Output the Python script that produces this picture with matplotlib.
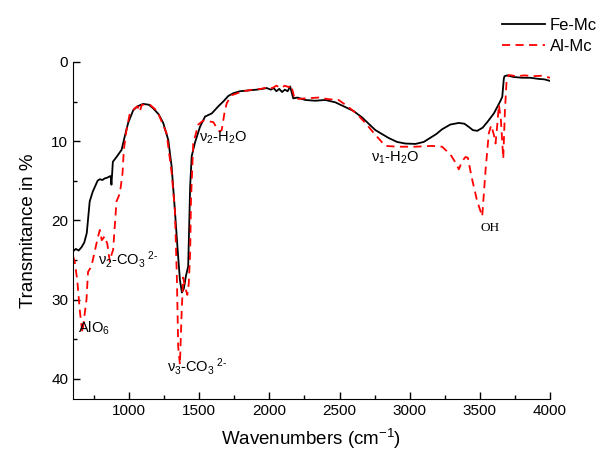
import matplotlib
matplotlib.use("Agg")
import matplotlib.pyplot as plt
from matplotlib.ticker import MultipleLocator

plt.rcParams["font.family"] = ["Liberation Sans", "DejaVu Sans"]
plt.rcParams["mathtext.fontset"] = "custom"
plt.rcParams["mathtext.rm"] = "Liberation Sans"
plt.rcParams["mathtext.it"] = "Liberation Sans"

# Fe-Mc spectrum (wavenumber, transmitance)
fe_x = [600, 620, 640, 660, 680, 698, 719, 740, 755, 775, 791, 810, 826, 845,
        855, 868, 874, 884, 910, 946, 969, 993, 1029, 1060, 1100, 1140, 1171,
        1210, 1243, 1279, 1303, 1326, 1345, 1362, 1376, 1390, 1405, 1421, 1435,
        1446, 1469, 1505, 1541, 1589, 1636, 1671, 1707, 1743, 1791, 1850, 1910,
        1950, 1981, 2010, 2030, 2050, 2070, 2090, 2110, 2130, 2148, 2155, 2170,
        2200, 2255, 2326, 2398, 2470, 2541, 2600, 2660, 2755, 2850, 2910, 2969,
        3041, 3100, 3136, 3190, 3231, 3290, 3350, 3390, 3421, 3450, 3481, 3520,
        3553, 3600, 3636, 3650, 3660, 3671, 3676, 3696, 3740, 3803, 3860, 3921,
        3960, 4000]
fe_y = [23.9, 23.6, 23.8, 23.4, 22.8, 21.6, 17.6, 16.4, 15.8, 15.0, 14.8, 14.9,
        14.7, 14.6, 14.5, 14.4, 15.5, 12.6, 12.0, 11.1, 9.4, 7.7, 6.1, 5.6, 5.3,
        5.4, 5.85, 6.6, 7.7, 9.85, 13.2, 18.7, 23.5, 27.5, 29.1, 28.6, 27.0,
        25.8, 15.7, 11.9, 10.2, 8.2, 6.9, 6.5, 5.6, 5.0, 4.3, 3.95, 3.7, 3.6,
        3.5, 3.4, 3.3, 3.5, 3.3, 3.7, 3.4, 3.8, 3.5, 3.7, 3.1, 3.6, 4.6, 4.5,
        4.8, 4.9, 4.8, 5.1, 5.7, 6.2, 7.0, 8.6, 9.6, 10.1, 10.3, 10.35, 10.1,
        9.7, 9.1, 8.5, 7.9, 7.7, 7.8, 8.2, 8.6, 8.7, 8.3, 7.6, 6.5, 5.3, 4.8,
        4.4, 2.1, 1.8, 1.7, 1.9, 2.0, 2.0, 2.15, 2.2, 2.4]

# Al-Mc spectrum (wavenumber, transmitance)
al_x = [600, 612, 630, 648, 660, 667, 678, 696, 707, 731, 755, 775, 791, 805,
        826, 845, 862, 875, 886, 910, 934, 953, 962, 981, 1005, 1041, 1060,
        1076, 1090, 1148, 1200, 1267, 1303, 1326, 1340, 1350, 1362, 1374, 1385,
        1400, 1415, 1425, 1435, 1441, 1457, 1493, 1529, 1570, 1600, 1624, 1645,
        1660, 1680, 1696, 1731, 1814, 1880, 1940, 1990, 2020, 2050, 2080, 2110,
        2140, 2150, 2165, 2180, 2260, 2350, 2420, 2493, 2553, 2620, 2684, 2755,
        2826, 2921, 3041, 3160, 3231, 3291, 3330, 3350, 3375, 3398, 3415, 3441,
        3480, 3517, 3541, 3564, 3581, 3600, 3612, 3624, 3636, 3650, 3667, 3679,
        3691, 3707, 3760, 3820, 3880, 3940, 4000]
al_y = [24.5, 25.2, 27.5, 31.3, 33.2, 34.2, 32.5, 30.0, 26.5, 25.8, 23.9, 22.3,
        21.2, 22.5, 22.0, 23.0, 25.2, 24.3, 23.7, 17.6, 16.6, 14.05, 11.1, 8.6,
        6.5, 5.85, 5.6, 6.3, 5.4, 5.4, 6.2, 9.0, 14.0, 18.7, 27.0, 36.0, 38.2,
        31.8, 27.2, 28.5, 29.4, 28.0, 24.1, 17.4, 10.3, 7.9, 7.4, 7.5, 7.6, 8.3,
        8.8, 8.6, 6.4, 5.2, 4.2, 3.7, 3.5, 3.4, 3.2, 3.3, 3.0, 3.3, 3.0, 3.2,
        2.9, 3.6, 4.7, 4.6, 4.5, 4.7, 4.8, 5.55, 6.5, 7.7, 9.2, 10.6, 10.7,
        10.7, 10.6, 10.7, 11.7, 12.8, 13.55, 12.5, 12.0, 12.1, 14.5, 17.5, 19.5,
        13.6, 9.0, 8.0, 9.2, 10.3, 8.0, 5.4, 7.3, 12.2, 6.1, 2.3, 1.65, 1.8,
        1.7, 1.8, 1.75, 2.0]

fig = plt.figure(figsize=(6.1, 4.62), dpi=100)
ax = fig.add_axes([0.1197, 0.137, 0.7819, 0.729])

ax.plot(fe_x, fe_y, color="black", lw=1.3, label="Fe-Mc")
ax.plot(al_x, al_y, color="red", lw=1.3, dashes=(4.5, 3), label="Al-Mc")

ax.set_xlim(600, 4000)
ax.set_ylim(42.5, 0)
ax.xaxis.set_minor_locator(MultipleLocator(250))
ax.yaxis.set_major_locator(MultipleLocator(10))
ax.yaxis.set_minor_locator(MultipleLocator(5))
ax.set_xticks([1000, 1500, 2000, 2500, 3000, 3500, 4000])
ax.tick_params(which="both", direction="in", labelsize=11, width=1)
ax.tick_params(which="major", length=5)
ax.tick_params(which="minor", length=3)
ax.spines["top"].set_visible(False)
ax.spines["right"].set_visible(False)

ax.set_xlabel("Wavenumbers (cm$^{-1}$)", fontsize=13.5, labelpad=7)
ax.set_ylabel("Transmitance in %", fontsize=13.5, labelpad=10)

ax.text(1495, 9.6, "ν$_2$-H$_2$O", fontsize=10.5, va="center")
ax.text(2725, 12.1, "ν$_1$-H$_2$O", fontsize=10.5, va="center")
ax.text(3570, 21.0, "OH", fontsize=9.5, va="center", ha="center",
        family="Liberation Serif")
ax.text(780, 24.9, "ν$_2$-CO$_3$$^{\\ 2\\text{-}}$", fontsize=10.5, va="center")
ax.text(635, 33.6, "AlO$_6$", fontsize=10.5, va="center")
ax.text(1270, 38.4, "ν$_3$-CO$_3$$^{\\ 2\\text{-}}$", fontsize=10.5, va="center")

fig.legend(loc="upper right", bbox_to_anchor=(0.99, 0.975), frameon=False,
           fontsize=12, handlelength=2.6, handletextpad=0.3, labelspacing=0.35,
           borderaxespad=0)

fig.savefig("out.png", dpi=100)
